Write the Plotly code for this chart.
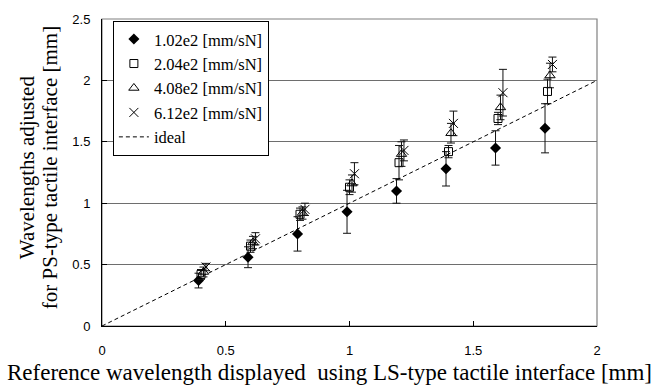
import plotly.graph_objects as go

# Reference wavelengths (x) per series, slightly offset as in the original
x_d = [0.39, 0.59, 0.79, 0.99, 1.19, 1.39, 1.59, 1.79]
x_s = [0.40, 0.60, 0.80, 1.00, 1.20, 1.40, 1.60, 1.80]
x_t = [0.41, 0.61, 0.81, 1.01, 1.21, 1.41, 1.61, 1.81]
x_c = [0.42, 0.62, 0.82, 1.02, 1.22, 1.42, 1.62, 1.82]

# Adjusted wavelengths (y)
y_102 = [0.37, 0.56, 0.75, 0.93, 1.10, 1.28, 1.45, 1.61]
y_204 = [0.42, 0.65, 0.91, 1.13, 1.33, 1.42, 1.69, 1.91]
y_408 = [0.44, 0.68, 0.92, 1.16, 1.40, 1.57, 1.78, 2.04]
y_612 = [0.48, 0.71, 0.95, 1.24, 1.43, 1.65, 1.90, 2.13]

# Error (standard deviation)
e_102 = [0.06, 0.085, 0.14, 0.175, 0.10, 0.14, 0.14, 0.20]
e_204 = [0.04, 0.05, 0.05, 0.06, 0.14, 0.05, 0.05, 0.10]
e_408 = [0.04, 0.05, 0.05, 0.07, 0.10, 0.08, 0.10, 0.10]
e_612 = [0.03, 0.05, 0.05, 0.09, 0.085, 0.10, 0.19, 0.06]

names = ["1.02e2 [mm/sN]", "2.04e2 [mm/sN]", "4.08e2 [mm/sN]", "6.12e2 [mm/sN]"]
ideal_x = [0, 2]
ideal_y = [0, 2]

x_ticks = [0, 0.5, 1, 1.5, 2]
y_ticks = [0, 0.5, 1, 1.5, 2, 2.5]

x_title = "Reference wavelength displayed\u00a0 using LS-type tactile interface [mm]"
y_title_lines = ["Wavelengths adjusted", "for PS-type tactile interface [mm]"]

serif = "Liberation Serif, Times New Roman, serif"
sans = "Liberation Sans, Arial, sans-serif"

fig = go.Figure()

def err(e):
    return dict(type="data", array=e, visible=True, color="#111", thickness=1, width=4)

fig.add_trace(go.Scatter(x=x_d, y=y_102, mode="markers", name=names[0],
                         marker=dict(symbol="diamond", size=8.5, color="black"),
                         error_y=err(e_102)))
fig.add_trace(go.Scatter(x=x_s, y=y_204, mode="markers", name=names[1],
                         marker=dict(symbol="square-open", size=8, color="black",
                                     line=dict(width=1, color="black")),
                         error_y=err(e_204)))
fig.add_trace(go.Scatter(x=x_t, y=y_408, mode="markers", name=names[2],
                         marker=dict(symbol="triangle-up-open", size=9, color="black",
                                     line=dict(width=1, color="black")),
                         error_y=err(e_408)))
fig.add_trace(go.Scatter(x=x_c, y=y_612, mode="markers", name=names[3],
                         marker=dict(symbol="x-thin-open", size=9, color="black",
                                     line=dict(width=1, color="black")),
                         error_y=err(e_612)))
fig.add_trace(go.Scatter(x=ideal_x, y=ideal_y, mode="lines", name="ideal",
                         line=dict(color="black", width=1, dash="4px,3px")))

fig.add_shape(type="rect", xref="paper", yref="paper", x0=0, y0=0, x1=1, y1=1,
              line=dict(color="#808080", width=1.2), layer="below")

# Axis titles as annotations (tight two-line y title, figure-centred x title)
fig.add_annotation(text=x_title, xref="paper", yref="paper", x=0.4586, y=-0.150,
                   xanchor="center", yanchor="middle", showarrow=False,
                   font=dict(family=serif, size=23, color="black"))
fig.add_annotation(text=y_title_lines[0], xref="paper", yref="paper", x=-0.1522, y=0.516,
                   xanchor="center", yanchor="middle", showarrow=False, textangle=-90,
                   font=dict(family=serif, size=21, color="black"))
fig.add_annotation(text=y_title_lines[1], xref="paper", yref="paper", x=-0.1058, y=0.516,
                   xanchor="center", yanchor="middle", showarrow=False, textangle=-90,
                   font=dict(family=serif, size=21, color="black"))

fig.update_layout(
    width=658, height=389,
    margin=dict(l=102, r=61, t=12, b=63),
    paper_bgcolor="white", plot_bgcolor="white",
    showlegend=True,
    legend=dict(x=0.022, y=0.994, xanchor="left", yanchor="top",
                bgcolor="white", bordercolor="black", borderwidth=1,
                font=dict(family=serif, size=16.5, color="black"),
                tracegroupgap=0),
    xaxis=dict(range=[0, 2], tickvals=x_ticks, ticktext=[str(v) for v in x_ticks],
               showgrid=False, zeroline=False, showline=True, linecolor="black",
               linewidth=1, ticks="inside", ticklen=5, tickcolor="black",
               ticklabelstandoff=12,
               tickfont=dict(family=sans, size=13, color="black")),
    yaxis=dict(range=[0, 2.5], tickvals=y_ticks, ticktext=[str(v) for v in y_ticks],
               showgrid=True, gridcolor="#6e6e6e", gridwidth=1.2,
               zeroline=False, showline=True, linecolor="black", linewidth=1,
               ticks="inside", ticklen=5, tickcolor="black",
               ticklabelstandoff=8,
               tickfont=dict(family=sans, size=13, color="black")),
)

fig.write_html("out.html")
